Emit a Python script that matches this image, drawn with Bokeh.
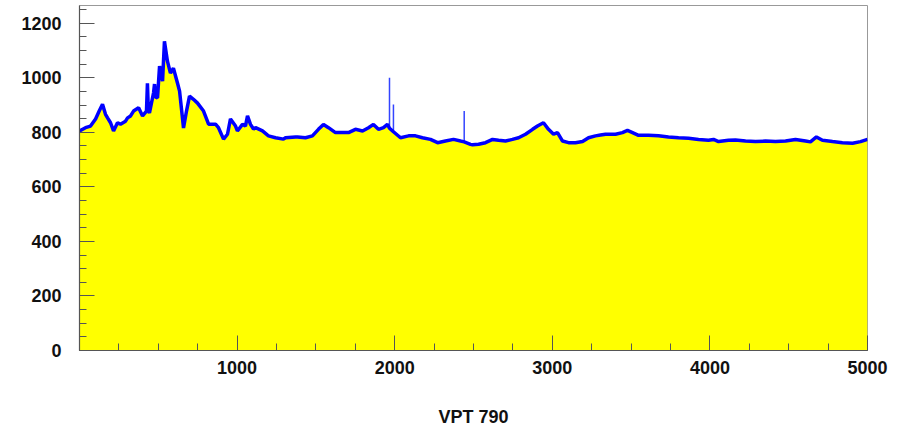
from bokeh.plotting import figure
from bokeh.models import Range1d, SingleIntervalTicker
from bokeh.embed import file_html
from bokeh.resources import INLINE

# VPT 790 histogram contour (x in channel units, y counts)
x_pos = [0, 38, 70, 102, 125, 146, 165, 178, 197, 216, 241, 260, 292, 305, 324,
         343, 375, 400, 425, 431, 437, 444, 470, 476, 482, 495, 508, 527, 539,
         558, 577, 596, 622, 635, 660, 679, 698, 723, 749, 787, 819, 863, 882,
         914, 939, 958, 990, 1002, 1034, 1053, 1066, 1085, 1104, 1117, 1161,
         1199, 1244, 1294, 1307, 1371, 1383, 1434, 1478, 1516, 1548, 1580, 1624,
         1669, 1707, 1751, 1796, 1834, 1865, 1897, 1929, 1954, 1967,
         1992, 2037, 2088, 2132, 2176, 2227, 2272, 2322, 2373, 2418,
         2441, 2481, 2494, 2532, 2576, 2621, 2659, 2703, 2747, 2786,
         2830, 2875, 2906, 2944, 2976, 3008, 3033, 3065, 3103, 3147, 3192, 3230,
         3274, 3306, 3338, 3401, 3445, 3477, 3509, 3547, 3610, 3674, 3737, 3801,
         3864, 3928, 3991, 4023, 4055, 4118, 4162, 4226, 4289, 4353, 4416, 4480,
         4543, 4607, 4638, 4676, 4714, 4778, 4841, 4905, 4956, 5000]
counts = [805, 817, 823, 849, 878, 903, 866, 853, 835, 805, 835, 830, 841, 853, 860,
          878, 890, 860, 878, 980, 880, 871, 945, 977, 930, 926, 1043, 988, 1134,
          1061, 1017, 1035, 980, 951, 816, 878, 933, 921, 907, 878, 830, 830, 817,
          775, 793, 849, 823, 805, 829, 823, 860, 829, 812, 817, 805,
          787, 780, 775, 780, 783, 783, 780, 787, 811, 829, 817, 799,
          799, 799, 811, 805, 817, 829, 811, 817, 829, 815,
          802, 780, 787, 787, 780, 774, 762, 768, 774, 768,
          765, 756, 754, 756, 762, 774, 771, 768, 774, 780,
          793, 811, 823, 835, 811, 793, 799, 768, 762, 762, 766, 780,
          787, 790, 793, 793, 799, 807, 799, 789, 789, 787, 783, 780,
          778, 774, 771, 774, 766, 771, 772, 768, 766, 768, 766, 768,
          774, 768, 765, 783, 771, 766, 762, 760, 766, 774]

# single-bin spikes: channel, count at the spike base, spike top
spike_x = [1967, 1992, 2441]
spike_base = [815, 802, 765]
spike_top = [1000, 902, 878]

x_title = "VPT 790"

p = figure(width=906, height=429, output_backend="svg", toolbar_location=None,
           x_range=Range1d(0, 5000), y_range=Range1d(0, 1265),
           min_border_left=79, min_border_right=39, min_border_top=5,
           min_border_bottom=79)
p.grid.visible = False
p.background_fill_color = "white"
p.border_fill_color = "white"
p.outline_line_color = "#999999"
p.outline_line_width = 1

p.varea(x=x_pos, y1=0, y2=counts, fill_color="#FFFF00", fill_alpha=1.0)
p.segment(x0=spike_x, y0=spike_base, x1=spike_x, y1=spike_top,
          line_color="#3344FF", line_width=1.5)
p.line(x=x_pos, y=counts, line_color="#0000FF", line_width=3.5)

p.xaxis.ticker = SingleIntervalTicker(interval=1000, num_minor_ticks=4)
p.yaxis.ticker = SingleIntervalTicker(interval=200, num_minor_ticks=4)
p.xaxis.major_label_overrides = {0: ""}

for ax in (p.xaxis[0], p.yaxis[0]):
    ax.axis_line_color = "#555555"
    ax.axis_line_width = 1.2
    ax.major_tick_line_color = "#555555"
    ax.minor_tick_line_color = "#555555"
    ax.major_tick_in = 15
    ax.major_tick_out = 0
    ax.minor_tick_in = 7
    ax.minor_tick_out = 0
    ax.major_label_text_font = "Liberation Sans"
    ax.major_label_text_font_style = "bold"
    ax.major_label_text_font_size = "18px"
    ax.major_label_text_color = "#111111"

p.yaxis.major_label_standoff = 18
p.xaxis.major_label_standoff = 10
p.xaxis.axis_label = x_title
p.xaxis.axis_label_text_font = "Liberation Sans"
p.xaxis.axis_label_text_font_style = "bold"
p.xaxis.axis_label_text_font_size = "18px"
p.xaxis.axis_label_text_color = "#111111"
p.xaxis.axis_label_standoff = 30

open("out.html", "w").write(file_html(p, INLINE))
